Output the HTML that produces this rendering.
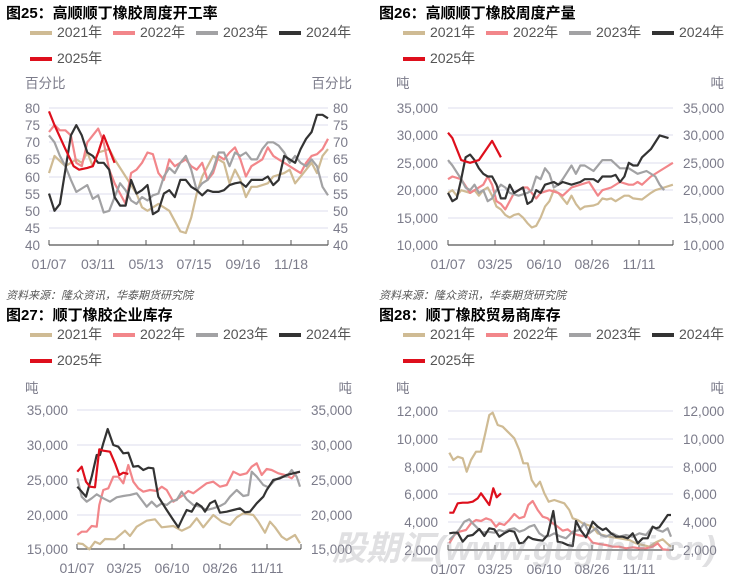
<!DOCTYPE html>
<html><head><meta charset="utf-8"><style>
body{margin:0;background:#fff;}
svg{display:block;font-family:"Liberation Sans","Noto Sans CJK SC",sans-serif;}
.t{font-weight:bold;font-size:15px;fill:#000;}
.lg{font-size:14px;fill:#555;}
.ax{font-size:13.5px;fill:#7b7b8a;}
.src{font-size:11px;fill:#555;font-style:italic;}
</style></head><body>
<svg id="s" width="732" height="577" viewBox="0 0 732 577" xmlns="http://www.w3.org/2000/svg">
<text x="6" y="18" class="t">图25：高顺顺丁橡胶周度开工率</text>
<text x="379" y="18" class="t">图26：高顺顺丁橡胶周度产量</text>
<text x="6" y="320" class="t">图27：顺丁橡胶企业库存</text>
<text x="379" y="320" class="t">图28：顺丁橡胶贸易商库存</text>
<text x="6" y="299" class="src">资料来源：隆众资讯，华泰期货研究院</text>
<text x="379" y="299" class="src">资料来源：隆众资讯，华泰期货研究院</text>
<g id="g"></g>
<text x="332" y="560" style="font-size:34px;font-weight:bold;font-style:italic;fill:#9a9aa0;opacity:0.3">股期汇(www.gugihui.cn)</text>
</svg>
<script>
var NS="http://www.w3.org/2000/svg",G=document.getElementById('g');
function el(t,a,txt){var e=document.createElementNS(NS,t);for(var k in a)e.setAttribute(k,a[k]);if(txt!==undefined)e.textContent=txt;G.appendChild(e);return e;}
var C={a:"#cfbb94",b:"#f2868a",c:"#a2a2a4",d:"#333333",e:"#de0f1c"};
function legend(x0,y0,dx){var n=["2021年","2022年","2023年","2024年"],k=["a","b","c","d"];
for(var i=0;i<4;i++){var x=x0+i*dx;el("rect",{x:x,y:y0-6,width:22,height:4,fill:C[k[i]]});el("text",{x:x+27,y:y0,"class":"lg"},n[i]);}
el("rect",{x:x0,y:y0+20,width:22,height:4,fill:C.e});el("text",{x:x0+27,y:y0+26,"class":"lg"},"2025年");}
legend(30,37,83);legend(403,37,83);legend(30,339,83);legend(403,339,83);
function panel(o){
 for(var i=0;i<o.ticks.length;i++){var y=o.ticks[i][0];
  if(i>0)el("line",{x1:o.x1,x2:o.x2,y1:y,y2:y,stroke:"#dcdcec","stroke-width":1});
  el("text",{x:o.lx,y:y+5,"class":"ax","text-anchor":"end"},o.ticks[i][1]);
  el("text",{x:o.rx,y:y+5,"class":"ax"},o.ticks[i][1]);}
 var yb=o.ticks[0][0];
 el("line",{x1:o.x1,x2:o.x2,y1:yb,y2:yb,stroke:"#555","stroke-width":1.2});
 el("line",{x1:o.x2,x2:o.x2,y1:yb,y2:yb-5,stroke:"#555","stroke-width":1});
 for(var j=0;j<o.xt.length;j++){el("line",{x1:o.xt[j][0],x2:o.xt[j][0],y1:yb,y2:yb-5,stroke:"#555","stroke-width":1});
  el("text",{x:o.xt[j][0],y:yb+24,"class":"ax","text-anchor":"middle",style:"font-size:14px"},o.xt[j][1]);}
 el("text",{x:o.ulx,y:o.uy,"class":"ax"},o.unit);el("text",{x:o.urx,y:o.uy,"class":"ax","text-anchor":"end"},o.unit);
}
panel({x1:49,x2:328,lx:40,rx:333,ulx:25,urx:352,uy:88,unit:"百分比",
 ticks:[[245,"40"],[228,"45"],[211,"50"],[194,"55"],[177,"60"],[159,"65"],[142,"70"],[125,"75"],[108,"80"]],
 xt:[[49,"01/07"],[98,"03/11"],[146,"05/13"],[194,"07/15"],[243,"09/16"],[291,"11/18"]]});
panel({x1:448,x2:673,lx:438,rx:683,ulx:396,urx:724,uy:88,unit:"吨",
 ticks:[[245,"10,000"],[218,"15,000"],[190,"20,000"],[163,"25,000"],[135,"30,000"],[108,"35,000"]],
 xt:[[448,"01/07"],[495,"03/25"],[544,"06/10"],[592,"08/26"],[639,"11/11"]]});
panel({x1:77,x2:301,lx:68,rx:311,ulx:25,urx:352,uy:393,unit:"吨",
 ticks:[[549,"15,000"],[515,"20,000"],[480,"25,000"],[445,"30,000"],[410,"35,000"]],
 xt:[[77,"01/07"],[124,"03/25"],[172,"06/10"],[220,"08/26"],[267,"11/11"]]});
panel({x1:448,x2:673,lx:438,rx:683,ulx:396,urx:724,uy:393,unit:"吨",
 ticks:[[550,"2,000"],[522,"4,000"],[494,"6,000"],[467,"8,000"],[439,"10,000"],[411,"12,000"]],
 xt:[[448,"01/07"],[495,"03/25"],[544,"06/10"],[592,"08/26"],[639,"11/11"]]});
function line(pts,c){el("polyline",{points:pts.map(function(p){return p[0].toFixed(1)+","+p[1].toFixed(1)}).join(" "),fill:"none",stroke:C[c],"stroke-width":2.2,"stroke-linejoin":"round"});}
function wv(a,xs,dx,yb,vmin,k){var r=[];for(var i=0;i<a.length;i+=2)r.push([xs+a[i]*dx,yb-(a[i+1]-vmin)*k]);return r;}
function zp(a,ox,oy){var r=[];for(var i=0;i<a.length;i+=2)r.push([ox+a[i]/3,oy+a[i+1]/3]);return r;}
var P1={
a:[0,61,1,66,3,63,5,65,6,64,7,67,8,63,9,67,11,68,12,65,14,60,16,55,17,51,18,50,20,52,22,50,24,44,25,43.5,26,48,27,55,28,60,30,66,31,65,32,64,33,58,34,62,35,59,36,54,37,57,38,57,40,58,41,60,43,61,44,62,45,58,46,60,47,62,48,64,49,61,50,66,51,68],
b:[0,73,1,75,2,73.5,3,73.5,4,72,5,64,6,63,7,70,9,74,10,70,11,62,12,58,13,55,14,52,15,61,16,62,17,64,18,67,19,66.5,20,61,21,59,22,65,23,63,25,65,26,63,27,62,28,64,29,59,30,61,31,66,32,65,33,67,34,68.5,35,65,36,60,37,63,38,64,39,65,40,68.5,41,66,42,65,43,64,44,63,45,62,46,61,47,64,48,66,49,66.5,50,68,51,71],
c:[0,72,1,70,2,66,3,63,4,59,5,55.5,6,56.5,7,57.5,8,53.5,9,54.5,10,49.5,11,50,12,54,13,58,14,56,15,53,16,52,17,54,18,53,19,54.5,20,55,21,60,22,62.5,23,61,24,64,25,66,26,62,27,56,28,58,29,59,30,62,31,67,32,67,33,63,34,67,35,66,36,67,37,65,38,65,39,68,40,70,41,70,42,69,43,67,44,64,45,66,46,64,47,63,48,65,49,63,50,57,51,54.5],
d:[0,55,1,50,2,52,3,62,4,72,5,75,6,72,7,67,8,66,9,64,10,64,11,62,12,54,13,51.5,14,51.5,15,59,16,55,17,56,18,57.5,19,49,20,50,21,55,22,56,23,54,24,59,25,59,26,57,27,56,28,54.5,29,56,30,55.5,31,55.5,32,56,33,57.5,34,58,35,58.3,36,57,37,59,38,59,39,59,40,60,41,57.5,42,59,43,66,44,65,45,64,46,68,47,71,48,73,49,78,50,78,51,77],
e:[0,79,1,75,3,68,4.5,63,5.5,62,7,62.5,8,63,9,67,10,72,12,64]};
["a","b","c","d","e"].forEach(function(k){line(wv(P1[k],49,5.47,245,40,3.425),k);});
var P2={
a:[0,19.5,1,20,2,19,3,20,5,19.5,6,20,7,19,8,20,9,20.5,10,19,11,17,12,16.5,13,15.5,14,15,15,15.5,16,15.7,17,15,18,14,19,13.2,20,13.5,21,15,22,17,23,18,24,20,25,19.5,27,17.5,28,19,29,17.5,30,16.5,31,17,33,17.2,34,17.5,35,18.5,36,18.3,37,18.5,38,18,39,18.5,40,19,41,19,42,18.5,44,18.3,46,19.5,47,20,49,20.5,51,21],
b:[0,22,1,22.5,3,22,5,19.5,6,20,8,21,9,22.5,10,21,11,18,12,17.5,13,16.5,14,18,15,19.5,17,20.5,18,20.5,20,18.5,21,19.5,23,20,25,19.5,26,19,28,20.5,30,21,32,21.5,34,19,35,20,37,20.5,39,21.5,41,21,42,21,43,21.5,44,21,46,22.5,48,23.5,51,25],
c:[0,25.5,1,24.5,3,22,4,20.5,5,20,6,21,7,19.5,8,20,9,18,10,18.5,11,20,12,21,13,20.5,14,19.5,16,19,18,19.5,19,20,20,22.5,21,22,22,24,23,23,24,20.5,25,21,26,22,28,24.5,29,23,30,24.5,31,24.5,33,23.5,35,25.5,37,25.5,39,24,41,24,43,23,45,23.5,47,22.5,48,21,49,20],
d:[0,19.5,1,18,2,18.5,3,22,4,26,5,26.5,6,25.5,7,24,8,23,9,22.5,10,22.5,11,21,12,18.5,13,18.5,14,21,15,19.5,16,20,17,20.5,18,17.5,19,18,20,20,21,19.5,22,21,24,21.5,25,21,26,21.5,28,21,30,21.5,31,22,33,22,34,21.5,35,22.5,37,22.5,38,22.8,39,21.5,40,22.5,41,25,42,24.5,43,24.5,44,26,46,27.5,48,30,50,29.5],
e:[0,30.5,1,29.5,3,25.5,5,25,7,25.5,10,29,12,26]};
["a","b","c","d","e"].forEach(function(k){line(wv(P2[k],448,4.41,245,10,5.48),k);});
var P3={
a:[232,760,248,762,268,778,285,755,300,762,315,747,345,748,375,722,390,738,410,710,440,692,465,688,485,712,520,708,545,722,570,710,590,685,610,712,640,675,665,695,690,705,710,682,730,670,760,675,775,695,795,728,810,695,825,712,845,740,860,750,885,735,900,760],
b:[232,735,245,725,260,725,275,708,290,710,298,645,310,600,325,595,340,560,355,560,370,580,385,525,400,575,415,595,430,605,450,600,470,603,485,590,500,600,520,635,535,625,550,615,565,603,580,610,600,595,620,580,640,575,660,590,680,585,700,545,720,555,740,550,755,530,770,520,785,555,800,537,815,540,835,550,855,555,875,565,890,548,900,545],
c:[232,565,245,620,260,635,275,625,290,613,310,625,330,635,350,622,370,618,390,615,410,610,425,630,440,650,455,635,470,650,485,640,500,645,515,633,530,630,545,605,560,628,580,645,600,650,620,660,640,655,660,648,675,640,690,620,710,600,730,618,745,615,755,545,770,560,790,585,805,592,825,570,845,560,860,560,875,540,890,560,900,590],
d:[232,590,245,605,258,620,275,560,290,495,300,495,310,460,323,417,340,465,355,470,370,490,385,488,400,530,415,528,430,540,445,533,460,535,475,620,500,660,520,690,535,712,550,680,560,660,575,665,590,640,605,650,615,665,630,640,645,632,660,668,680,665,700,660,720,655,735,667,750,665,770,640,790,620,800,600,820,570,840,565,860,555,880,550,900,545],
e:[232,545,245,530,258,575,270,590,285,592,298,478,310,482,330,485,345,520,358,555,370,548,385,552]};
["a","b","c","d","e"].forEach(function(k){line(zp(P3[k],0,290),k);});
var P4={
a:[250,488,262,510,275,500,290,505,302,545,315,510,330,485,345,485,358,430,370,375,380,368,395,405,410,410,425,425,445,445,460,480,472,520,485,520,497,570,510,590,522,575,535,610,548,635,565,630,580,635,595,640,610,660,620,685,635,690,650,700,665,705,680,710,695,730,710,735,730,740,760,745,790,750,810,760,830,765,850,770,870,757,890,748,905,762,915,770],
b:[250,760,265,735,280,725,300,720,315,700,330,690,345,693,360,685,375,690,390,710,400,700,415,705,430,690,445,672,460,685,475,680,487,645,500,633,515,660,530,680,545,685,560,700,575,710,590,722,605,718,620,730,635,735,650,738,665,740,680,758,700,762,720,765,740,770,760,770,780,775,800,772,820,775,840,775,860,770,875,760,890,778,910,780],
c:[250,750,265,735,280,718,295,695,310,688,320,700,335,715,350,728,365,725,385,728,400,720,415,725,430,718,445,715,460,725,475,720,490,710,505,705,520,730,535,740,550,738,565,730,580,738,600,745,620,725,640,720,655,700,670,730,690,715,705,735,720,740,740,730,760,740,780,735,800,740,820,730,840,735,860,710,875,720,890,725,905,715,915,740],
d:[250,730,262,728,275,728,290,755,305,738,320,735,340,717,355,738,370,715,385,718,400,740,415,730,430,722,445,725,460,760,472,758,487,740,500,747,515,750,530,752,545,735,562,663,575,755,590,758,605,765,620,768,630,693,645,722,660,742,670,720,680,695,695,710,710,720,720,715,735,730,750,740,770,740,785,745,800,730,815,760,830,745,845,745,860,710,870,715,880,712,895,690,905,675,915,675],
e:[250,668,262,668,275,640,290,638,305,638,320,635,335,625,345,610,358,628,370,645,382,595,392,622,405,610]};
["a","b","c","d","e"].forEach(function(k){line(zp(P4[k],366,290),k);});
</script>
</body></html>
